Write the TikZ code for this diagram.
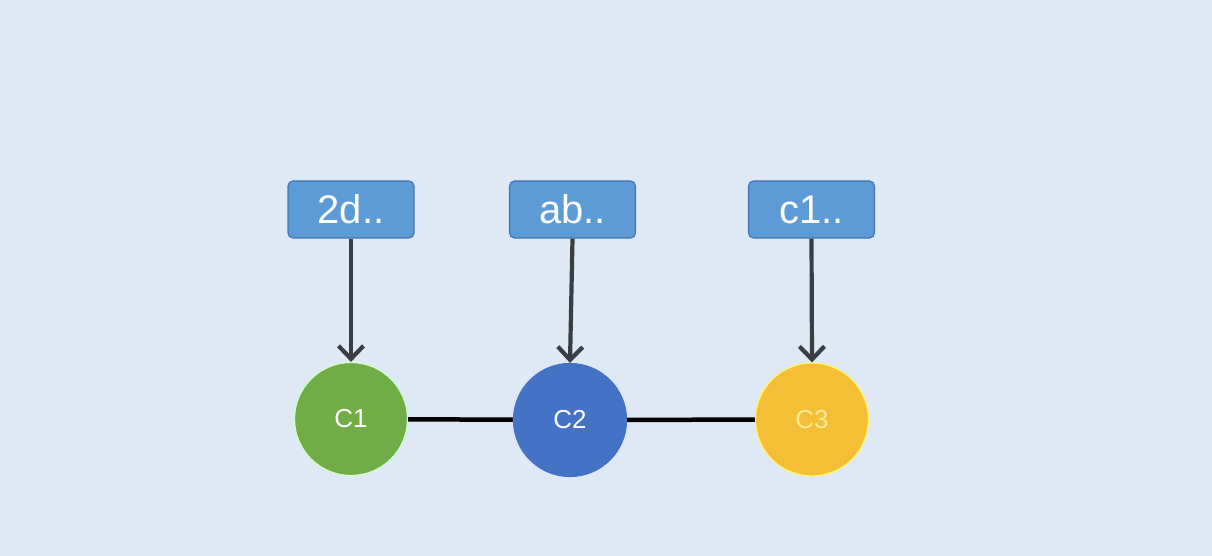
\documentclass[tikz,border=0pt]{standalone}
\usepackage{fontspec}
\setmainfont{Liberation Sans}
\usetikzlibrary{arrows.meta}
\definecolor{bg}{RGB}{222,233,245}
\definecolor{boxfill}{RGB}{92,155,213}
\definecolor{boxline}{RGB}{66,118,178}
\definecolor{arrowc}{RGB}{58,62,68}
\definecolor{cgreen}{RGB}{112,173,71}
\definecolor{cblue}{RGB}{68,114,196}
\definecolor{cyellow}{RGB}{244,191,55}
\definecolor{ytext}{RGB}{250,235,150}
\tikzset{
  hashbox/.style={draw=boxline, fill=boxfill, line width=1.2pt, rounded corners=5pt,
    minimum width=126pt, minimum height=57pt, inner sep=0pt, text=white,
    font=\fontsize{40}{40}\selectfont},
  commit/.style={circle, minimum size=113pt, inner sep=0pt, line width=1.2pt,
    font=\fontsize{26}{26}\selectfont},
  ptr/.style={draw=arrowc, line width=4.2pt, -{Straight Barb[length=13pt,width=25pt,line width=4.2pt]}},
  link/.style={draw=black, line width=4.5pt}
}
\begin{document}
\begin{tikzpicture}[x=1pt,y=-1pt]
\fill[bg] (0,0) rectangle (1212,556);
\useasboundingbox (0,0) rectangle (1212,556);
\node[hashbox] (h1) at (351,209.5) {2d..};
\node[hashbox] (h2) at (572.5,209.5) {ab..};
\node[hashbox] (h3) at (811.5,209.5) {c1..};
\node[commit, fill=cgreen, draw=green!20!white, text=white] (c1) at (351,419) {C1};
\node[commit, fill=cblue, draw=cblue, text=white] (c2) at (570,420) {C2};
\node[commit, fill=cyellow, draw=yellow!60!white, text=ytext] (c3) at (812,419.5) {C3};
\draw[link] (c1) -- (c2);
\draw[link] (c2) -- (c3);
\draw[ptr] (h1.south) -- (c1.north);
\draw[ptr] (h2.south) -- (c2.north);
\draw[ptr] (h3.south) -- (c3.north);
\end{tikzpicture}
\end{document}
